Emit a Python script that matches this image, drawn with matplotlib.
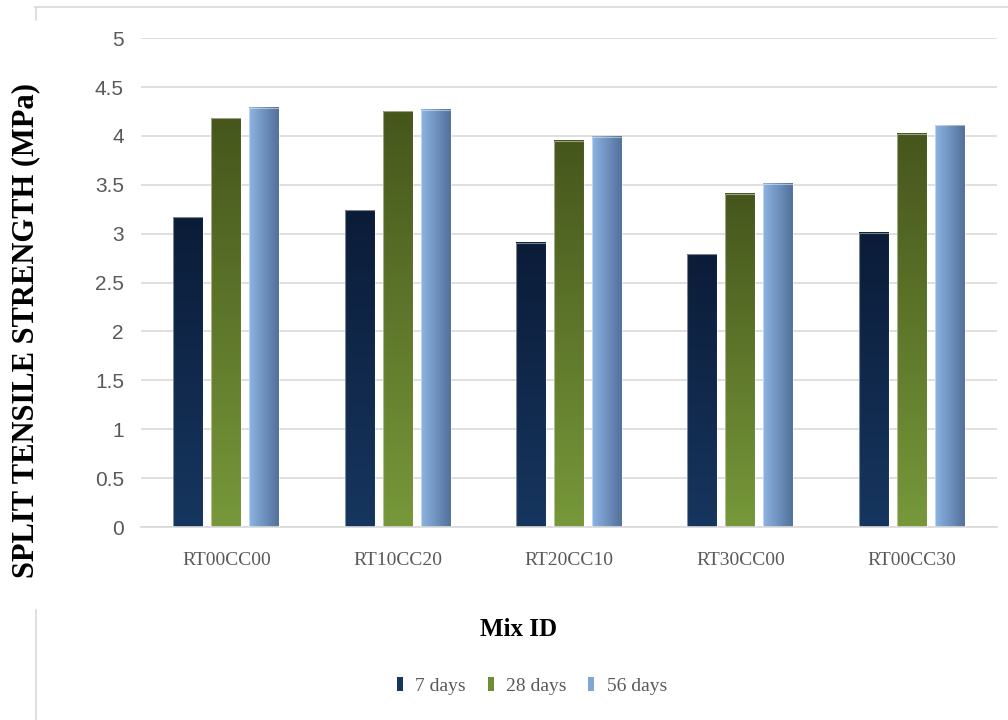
"""
Split tensile strength of the rubber / crumb-concrete mixes at 7, 28 and 56 days.
"""

import matplotlib.pyplot as plt
import numpy as np
from matplotlib.lines import Line2D
from matplotlib.patches import Patch

mix_ids = ['RT00CC00', 'RT10CC20', 'RT20CC10', 'RT30CC00', 'RT00CC30']
ages = ['7 days', '28 days', '56 days']
strength_7d = [3.17, 3.24, 2.91, 2.79, 3.01]
strength_28d = [4.18, 4.25, 3.95, 3.41, 4.02]
strength_56d = [4.29, 4.27, 3.99, 3.51, 4.11]
y_ticks = [0, 0.5, 1, 1.5, 2, 2.5, 3, 3.5, 4, 4.5, 5]

# (top/left colour, bottom/right colour, vertical gradient?)
GRADIENTS = [
    ('#0b1c38', '#16365f', True),
    ('#46561c', '#77983a', True),
    ('#8db4e3', '#52709a', False),
]
LEGEND_COLORS = ['#16365f', '#6e8d35', '#7fa6d6']
GRID = '#d9d9d9'
TEXT = '#595959'
SERIF = ['Liberation Serif', 'DejaVu Serif']
NARROW = ['Liberation Sans Narrow', 'Liberation Sans', 'DejaVu Sans']


def fill_gradient(ax, bar, c_start, c_end, vertical):
    """Paint a linear gradient inside one bar rectangle."""
    x, y = bar.get_xy()
    w, h = bar.get_width(), bar.get_height()
    c0 = np.array(plt.matplotlib.colors.to_rgb(c_start))
    c1 = np.array(plt.matplotlib.colors.to_rgb(c_end))
    t = np.linspace(0, 1, 256)[:, None]
    ramp = (1 - t) * c0 + t * c1
    img = ramp[:, None, :] if vertical else ramp[None, :, :]
    ax.imshow(img, extent=(x, x + w, y, y + h), origin='upper',
              aspect='auto', interpolation='bilinear', zorder=2)


fig = plt.figure(figsize=(10.08, 7.2), dpi=100)
ax = fig.add_axes([0.1395, 0.268, 0.850, 0.679])

x = np.arange(len(mix_ids))
width = 0.175
step = 0.222
series = [strength_7d, strength_28d, strength_56d]

for i, values in enumerate(series):
    bars = ax.bar(x + (i - 1) * step, values, width, facecolor='none',
                  edgecolor=(1, 1, 1, 0.45), linewidth=0.8, zorder=3)
    c0, c1, vertical = GRADIENTS[i]
    for bar in bars:
        fill_gradient(ax, bar, c0, c1, vertical)

ax.set_xlim(-0.5, len(mix_ids) - 0.5)
ax.set_ylim(0, 5)
ax.set_yticks(y_ticks)
ax.set_yticklabels([f'{v:g}' for v in y_ticks], family=NARROW,
                   fontsize=15, color=TEXT)
ax.set_xticks(x)
ax.set_xticklabels(mix_ids, family=SERIF, fontsize=14, color=TEXT)
ax.tick_params(axis='y', length=0, pad=12)
ax.tick_params(axis='x', length=0, pad=18)

ax.yaxis.grid(True, color=GRID, linewidth=1.2, zorder=0)
ax.set_axisbelow(True)
for side in ['top', 'right', 'left']:
    ax.spines[side].set_visible(False)
ax.spines['bottom'].set_color(GRID)
ax.spines['bottom'].set_linewidth(1.2)

fig.text(26 / 1008, 1 - 330 / 720, 'SPLIT TENSILE STRENGTH (MPa)',
         rotation=90, ha='center', va='center', fontsize=22,
         fontweight='bold', family=SERIF, color='black')
fig.text(519 / 1008, 1 - 630 / 720, 'Mix ID', ha='center', va='center',
         fontsize=18, fontweight='bold', family=SERIF, color='black')

handles = [Patch(facecolor=c, edgecolor='none') for c in LEGEND_COLORS]
fig.legend(handles, ages, loc='center', bbox_to_anchor=(532 / 1008, 1 - 686 / 720),
           ncol=3, frameon=False, handlelength=0.32, handleheight=0.7,
           handletextpad=0.65, columnspacing=1.1,
           prop={'family': SERIF, 'size': 14}, labelcolor=TEXT)

# chart area border, broken where the axis title sits
for xs, ys in [([35 / 1008, 1.0], [1 - 7 / 720, 1 - 7 / 720]),
               ([35.5 / 1008, 35.5 / 1008], [1 - 7 / 720, 1 - 20 / 720]),
               ([35.5 / 1008, 35.5 / 1008], [1 - 610 / 720, 0.0])]:
    fig.add_artist(Line2D(xs, ys, transform=fig.transFigure,
                          color=GRID, linewidth=1.2))

fig.savefig('out.png', dpi=100)
